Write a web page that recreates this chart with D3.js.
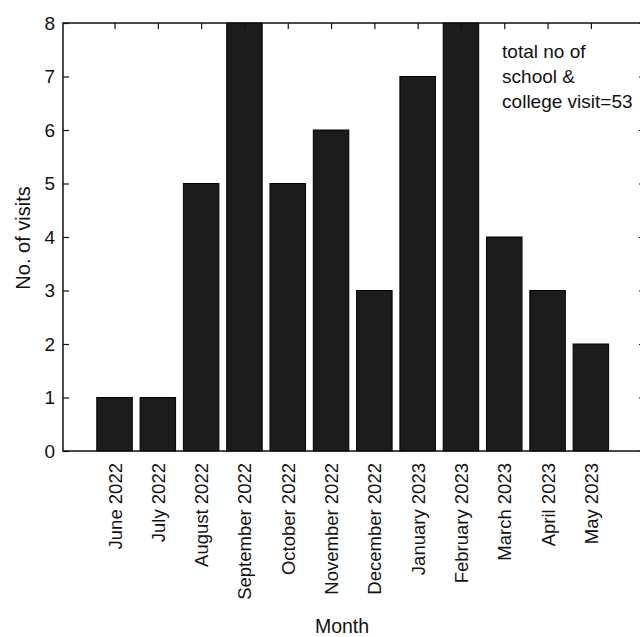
<!DOCTYPE html>
<meta charset="utf-8">
<style>
body { margin: 0; background: #fff; }
text { font-family: 'Liberation Sans', Arial, sans-serif; fill: #111; }
</style>
<body>
<svg id="chart"></svg>
<script src="https://d3js.org/d3.v7.min.js"></script>
<script>
var months = ["June 2022", "July 2022", "August 2022", "September 2022", "October 2022",
  "November 2022", "December 2022", "January 2023", "February 2023", "March 2023",
  "April 2023", "May 2023"];
var visits = [1, 1, 5, 8, 5, 6, 3, 7, 8, 4, 3, 2];
var yTicks = [0, 1, 2, 3, 4, 5, 6, 7, 8];
var note = ["total no of", "school &", "college visit=53"];

var W = 640, H = 637;
var margin = {top: 23, left: 63, bottom: 186, right: -5};
var width = W - margin.left - margin.right,
    height = H - margin.top - margin.bottom;

var svg = d3.select("#chart").attr("width", W).attr("height", H);
var g = svg.append("g").attr("transform", "translate(" + margin.left + "," + margin.top + ")");

// bars sit at index positions, axis limits a bit wider than the bars
var x = d3.scaleLinear().domain([-1.19, 12.25]).range([0, width]);
var y = d3.scaleLinear().domain([0, 8]).range([height, 0]);
var bw = 0.82;

g.selectAll(".bar")
    .data(visits)
  .enter().append("rect")
    .attr("class", "bar")
    .attr("x", function(d, i) { return x(i - bw / 2); })
    .attr("width", x(bw) - x(0))
    .attr("y", function(d) { return y(d); })
    .attr("height", function(d) { return y(0) - y(d); })
    .attr("fill", "#1c1c1c")
    .attr("stroke", "#000")
    .attr("stroke-width", 1);

var idx = d3.range(months.length);

// bottom axis with rotated month labels
var xAxis = d3.axisBottom(x).tickValues(idx).tickSize(0).tickPadding(0)
    .tickFormat(function(i) { return months[i]; });
var gx = g.append("g").attr("transform", "translate(0," + height + ")").call(xAxis);
gx.select(".domain").remove();
gx.selectAll("text")
    .attr("transform", "rotate(-90)")
    .attr("x", -12).attr("y", 0).attr("dy", "0.35em")
    .style("text-anchor", "end")
    .style("font-size", "18.5px")
    .style("font-family", "'Liberation Sans', Arial, sans-serif");

// top ticks pointing inward
var gt = g.append("g").call(d3.axisTop(x).tickValues(idx).tickSize(-6).tickFormat(""));
gt.select(".domain").remove();

// left axis
var yAxis = d3.axisLeft(y).tickValues(yTicks).tickSize(-6).tickPadding(8).tickFormat(d3.format("d"));
var gy = g.append("g").call(yAxis);
gy.select(".domain").remove();
gy.selectAll("text").style("font-size", "19px")
    .style("font-family", "'Liberation Sans', Arial, sans-serif");

// right ticks
var gr = g.append("g").attr("transform", "translate(" + width + ",0)")
    .call(d3.axisRight(y).tickValues(yTicks).tickSize(-6).tickFormat(""));
gr.select(".domain").remove();

g.selectAll(".tick line").attr("stroke", "#111").attr("stroke-width", 1.2);

// frame
g.append("rect")
    .attr("x", 0).attr("y", 0).attr("width", width).attr("height", height)
    .attr("fill", "none").attr("stroke", "#111").attr("stroke-width", 1.5);

// annotation
var noteX = x(8.95);
g.append("text")
    .attr("x", noteX).attr("y", y(7.35))
    .style("font-size", "19px")
  .selectAll("tspan")
    .data(note)
  .enter().append("tspan")
    .attr("x", noteX)
    .attr("dy", function(d, i) { return i ? 25 : 0; })
    .text(function(d) { return d; });

// axis titles
svg.append("text")
    .attr("transform", "translate(30," + (margin.top + height / 2 + 1) + ") rotate(-90)")
    .style("text-anchor", "middle")
    .style("font-size", "20px")
    .text("No. of visits");

svg.append("text")
    .attr("x", 342).attr("y", 633)
    .style("text-anchor", "middle")
    .style("font-size", "19.5px")
    .text("Month");
</script>
</body>
